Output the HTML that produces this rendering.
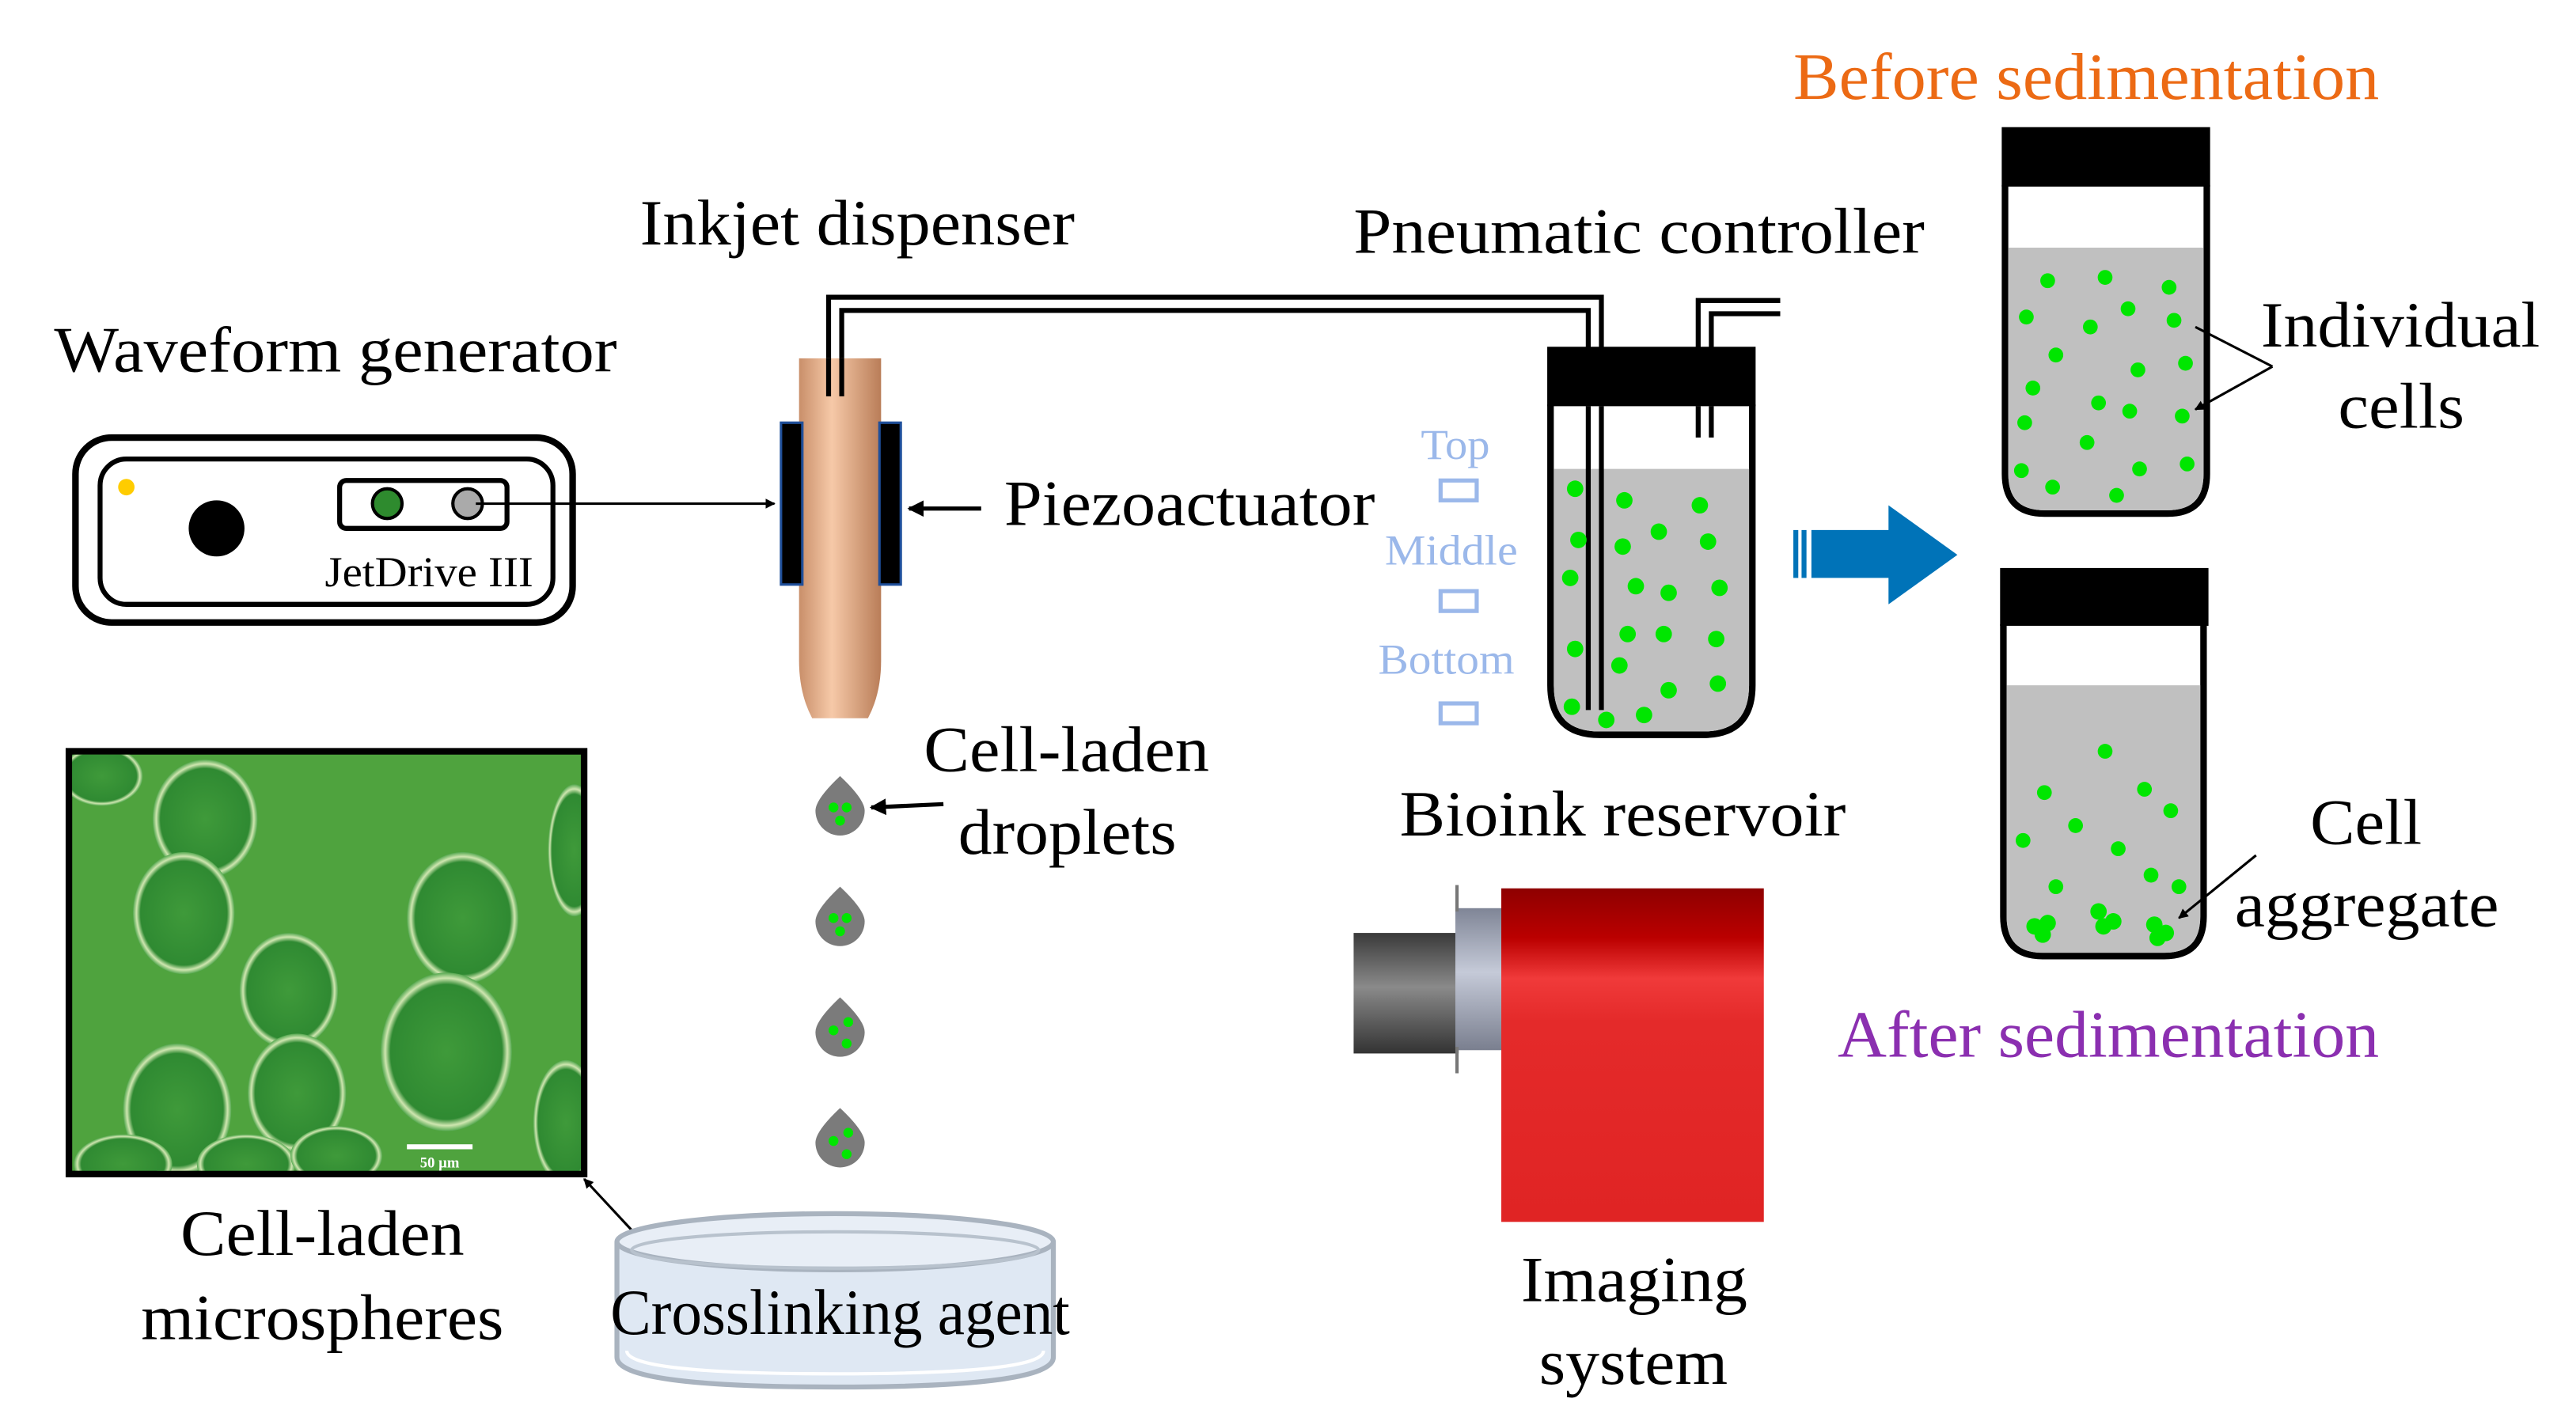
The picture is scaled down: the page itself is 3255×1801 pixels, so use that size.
<!DOCTYPE html>
<html><head><meta charset="utf-8"><style>html,body{margin:0;padding:0;background:#fff}svg{display:block}text{font-family:"Liberation Serif",serif}</style></head><body>
<svg width="3255" height="1801" viewBox="0 0 1570 863" preserveAspectRatio="none" xmlns="http://www.w3.org/2000/svg">
<defs>
<linearGradient id="tan" x1="0" x2="1"><stop offset="0" stop-color="#c98f6a"/><stop offset="0.4" stop-color="#f6c9a8"/><stop offset="1" stop-color="#b97d58"/></linearGradient>
<linearGradient id="red" x1="0" y1="0" x2="0" y2="1"><stop offset="0" stop-color="#8e0000"/><stop offset="0.15" stop-color="#b00"/><stop offset="0.27" stop-color="#f03a3a"/><stop offset="0.4" stop-color="#e42a2a"/><stop offset="1" stop-color="#e02424"/></linearGradient>
<linearGradient id="lens" x1="0" y1="0" x2="0" y2="1"><stop offset="0" stop-color="#3a3a3a"/><stop offset="0.45" stop-color="#8a8a8a"/><stop offset="1" stop-color="#333"/></linearGradient>
<linearGradient id="ring" x1="0" y1="0" x2="0" y2="1"><stop offset="0" stop-color="#7f8596"/><stop offset="0.45" stop-color="#c5cad8"/><stop offset="1" stop-color="#7a7f8f"/></linearGradient>
<radialGradient id="cell" cx="0.5" cy="0.5" r="0.5"><stop offset="0" stop-color="#3f9a3a"/><stop offset="0.85" stop-color="#2f8a32"/><stop offset="0.93" stop-color="#cfe6b0"/><stop offset="1" stop-color="#55a850"/></radialGradient>
<marker id="ah" viewBox="0 0 10 10" refX="9" refY="5" markerWidth="4" markerHeight="4" orient="auto"><path d="M0,0 L10,5 L0,10 z" fill="#000"/></marker>
<clipPath id="mc"><rect x="44" y="457" width="310" height="252"/></clipPath>
</defs>

<text x="1093" y="60" font-size="40" fill="#ec6a14" textLength="357" lengthAdjust="spacingAndGlyphs">Before sedimentation</text>
<text x="390" y="148" font-size="39" textLength="265" lengthAdjust="spacingAndGlyphs">Inkjet dispenser</text>
<text x="825" y="153" font-size="39" textLength="348" lengthAdjust="spacingAndGlyphs">Pneumatic controller</text>
<text x="33" y="225" font-size="39" textLength="343" lengthAdjust="spacingAndGlyphs">Waveform generator</text>

<rect x="46" y="265" width="303" height="112" rx="22" fill="#fff" stroke="#000" stroke-width="4"/>
<rect x="61" y="278" width="276" height="88" rx="16" fill="#fff" stroke="#000" stroke-width="3"/>
<circle cx="77" cy="295" r="5" fill="#fc0"/>
<circle cx="132" cy="320" r="17" fill="#000"/>
<rect x="207" y="291" width="102" height="29" rx="4" fill="#fff" stroke="#000" stroke-width="3"/>
<circle cx="236" cy="305" r="9" fill="#2e8b2e" stroke="#000" stroke-width="2"/>
<circle cx="285" cy="305" r="9" fill="#aaa" stroke="#000" stroke-width="2"/>
<text x="198" y="355" font-size="26" textLength="127" lengthAdjust="spacingAndGlyphs">JetDrive III</text>
<line x1="290" y1="305" x2="472" y2="305" stroke="#000" stroke-width="1.5" marker-end="url(#ah)"/>

<path d="M505,240 V180 H976 V430 M513,240 V188 H968 V430" fill="none" stroke="#000" stroke-width="3"/>
<path d="M1035,265 V182 H1085 M1043,265 V190 H1085" fill="none" stroke="#000" stroke-width="3"/>

<path d="M487,217 H537 V400 Q537,420 529,435 H495 Q487,420 487,400 Z" fill="url(#tan)"/>
<path d="M505,217 V240 M513,217 V240" stroke="#000" stroke-width="3"/>
<rect x="476" y="256" width="13" height="98" fill="#000" stroke="#1f4f9a" stroke-width="1.5"/>
<rect x="536" y="256" width="13" height="98" fill="#000" stroke="#1f4f9a" stroke-width="1.5"/>
<line x1="598" y1="308" x2="554" y2="308" stroke="#000" stroke-width="2.5" marker-end="url(#ah)"/>
<text x="612" y="318" font-size="39" textLength="226" lengthAdjust="spacingAndGlyphs">Piezoactuator</text>

<path d="M945,245 V415 Q945,445 975,445 H1038 Q1068,445 1068,415 V245" fill="#fff" stroke="#000" stroke-width="4"/>
<path d="M947,284 H1066 V415 Q1066,443 1038,443 H975 Q947,443 947,415 Z" fill="#c0c0c0"/>
<rect x="943" y="210" width="127" height="36" fill="#000"/>
<path d="M968,246 V430 M976,246 V430 M1035,246 V265 M1043,246 V265" stroke="#000" stroke-width="3"/>
<g fill="#00e600">
<circle cx="960" cy="296" r="5"/><circle cx="990" cy="303" r="5"/><circle cx="1036" cy="306" r="5"/>
<circle cx="962" cy="327" r="5"/><circle cx="989" cy="331" r="5"/><circle cx="1011" cy="322" r="5"/><circle cx="1041" cy="328" r="5"/>
<circle cx="957" cy="350" r="5"/><circle cx="997" cy="355" r="5"/><circle cx="1017" cy="359" r="5"/><circle cx="1048" cy="356" r="5"/>
<circle cx="992" cy="384" r="5"/><circle cx="1014" cy="384" r="5"/><circle cx="1046" cy="387" r="5"/>
<circle cx="960" cy="393" r="5"/><circle cx="987" cy="403" r="5"/><circle cx="1017" cy="418" r="5"/><circle cx="1047" cy="414" r="5"/>
<circle cx="958" cy="428" r="5"/><circle cx="979" cy="436" r="5"/><circle cx="1002" cy="433" r="5"/>
</g>
<g fill="#9bb8ea" font-size="26">
<text x="866" y="278" textLength="42" lengthAdjust="spacingAndGlyphs">Top</text>
<text x="844" y="342" textLength="81" lengthAdjust="spacingAndGlyphs">Middle</text>
<text x="840" y="408" textLength="83" lengthAdjust="spacingAndGlyphs">Bottom</text></g>
<g fill="none" stroke="#9bb8ea" stroke-width="2.5"><rect x="878" y="291" width="22" height="12"/><rect x="878" y="358" width="22" height="12"/><rect x="878" y="426" width="22" height="12"/></g>
<text x="853" y="506" font-size="39" textLength="272" lengthAdjust="spacingAndGlyphs">Bioink reservoir</text>

<path d="M1104,321 H1151 V306 L1193,336 L1151,366 V350 H1104 Z" fill="#0073b8"/>
<rect x="1093" y="321" width="3" height="29" fill="#0073b8"/><rect x="1098" y="321" width="3" height="29" fill="#0073b8"/>

<path d="M1222,112 V287 Q1222,311 1246,311 H1321 Q1345,311 1345,287 V112" fill="#fff" stroke="#000" stroke-width="4"/>
<path d="M1224,150 H1343 V287 Q1343,309 1321,309 H1246 Q1224,309 1224,287 Z" fill="#c0c0c0"/>
<rect x="1220" y="77" width="127" height="36" fill="#000"/>
<g fill="#00e600">
<circle cx="1248" cy="170" r="4.5"/><circle cx="1283" cy="168" r="4.5"/><circle cx="1322" cy="174" r="4.5"/>
<circle cx="1235" cy="192" r="4.5"/><circle cx="1274" cy="198" r="4.5"/><circle cx="1297" cy="187" r="4.5"/><circle cx="1325" cy="194" r="4.5"/>
<circle cx="1253" cy="215" r="4.5"/><circle cx="1303" cy="224" r="4.5"/><circle cx="1332" cy="220" r="4.5"/>
<circle cx="1239" cy="235" r="4.5"/><circle cx="1279" cy="244" r="4.5"/><circle cx="1298" cy="249" r="4.5"/><circle cx="1330" cy="252" r="4.5"/>
<circle cx="1234" cy="256" r="4.5"/><circle cx="1272" cy="268" r="4.5"/><circle cx="1304" cy="284" r="4.5"/><circle cx="1333" cy="281" r="4.5"/>
<circle cx="1232" cy="285" r="4.5"/><circle cx="1251" cy="295" r="4.5"/><circle cx="1290" cy="300" r="4.5"/>
</g>
<path d="M1385,222 L1338,198 M1385,222 L1338,248" stroke="#000" stroke-width="1.5" marker-end="url(#ah)"/>
<text x="1378" y="210" font-size="39" textLength="170" lengthAdjust="spacingAndGlyphs">Individual</text>
<text x="1425" y="259" font-size="39" textLength="77" lengthAdjust="spacingAndGlyphs">cells</text>

<path d="M1221,378 V555 Q1221,579 1245,579 H1319 Q1343,579 1343,555 V378" fill="#fff" stroke="#000" stroke-width="4"/>
<path d="M1223,415 H1341 V555 Q1341,577 1319,577 H1245 Q1223,577 1223,555 Z" fill="#c0c0c0"/>
<rect x="1219" y="344" width="127" height="35" fill="#000"/>
<g fill="#00e600">
<circle cx="1283" cy="455" r="4.5"/><circle cx="1246" cy="480" r="4.5"/><circle cx="1307" cy="478" r="4.5"/><circle cx="1323" cy="491" r="4.5"/>
<circle cx="1265" cy="500" r="4.5"/><circle cx="1233" cy="509" r="4.5"/><circle cx="1291" cy="514" r="4.5"/>
<circle cx="1253" cy="537" r="4.5"/><circle cx="1311" cy="530" r="4.5"/><circle cx="1328" cy="537" r="4.5"/>
<circle cx="1240" cy="561" r="5"/><circle cx="1248" cy="559" r="5"/><circle cx="1245" cy="566" r="5"/>
<circle cx="1279" cy="552" r="5"/><circle cx="1282" cy="561" r="5"/><circle cx="1288" cy="558" r="5"/>
<circle cx="1313" cy="560" r="5"/><circle cx="1320" cy="565" r="5"/><circle cx="1315" cy="568" r="5"/>
</g>
<line x1="1375" y1="518" x2="1328" y2="556" stroke="#000" stroke-width="1.5" marker-end="url(#ah)"/>
<text x="1408" y="511" font-size="39" textLength="68" lengthAdjust="spacingAndGlyphs">Cell</text>
<text x="1362" y="561" font-size="39" textLength="161" lengthAdjust="spacingAndGlyphs">aggregate</text>
<text x="1120" y="640" font-size="40" fill="#8b2fb0" textLength="330" lengthAdjust="spacingAndGlyphs">After sedimentation</text>

<rect x="825" y="565" width="64" height="73" fill="url(#lens)"/>
<rect x="887" y="550" width="30" height="86" fill="url(#ring)"/>
<rect x="887" y="536" width="2" height="16" fill="#777"/><rect x="887" y="634" width="2" height="16" fill="#777"/>
<rect x="915" y="538" width="160" height="202" fill="url(#red)"/>
<text x="927" y="788" font-size="39" textLength="138" lengthAdjust="spacingAndGlyphs">Imaging</text>
<text x="938" y="838" font-size="39" textLength="115" lengthAdjust="spacingAndGlyphs">system</text>

<rect x="42" y="455" width="314" height="256" fill="#4fa33e" stroke="#000" stroke-width="4"/>
<g clip-path="url(#mc)">
<ellipse cx="125" cy="496" rx="32" ry="36" fill="url(#cell)"/>
<ellipse cx="62" cy="470" rx="25" ry="18" fill="url(#cell)"/>
<ellipse cx="112" cy="553" rx="31" ry="37" fill="url(#cell)"/>
<ellipse cx="282" cy="556" rx="34" ry="40" fill="url(#cell)"/>
<ellipse cx="176" cy="600" rx="30" ry="35" fill="url(#cell)"/>
<ellipse cx="272" cy="637" rx="40" ry="48" fill="url(#cell)"/>
<ellipse cx="181" cy="662" rx="30" ry="36" fill="url(#cell)"/>
<ellipse cx="108" cy="672" rx="33" ry="40" fill="url(#cell)"/>
<ellipse cx="350" cy="515" rx="16" ry="40" fill="url(#cell)"/>
<ellipse cx="345" cy="680" rx="20" ry="38" fill="url(#cell)"/>
<ellipse cx="75" cy="705" rx="30" ry="18" fill="url(#cell)"/>
<ellipse cx="150" cy="705" rx="30" ry="18" fill="url(#cell)"/>
<ellipse cx="205" cy="700" rx="28" ry="18" fill="url(#cell)"/>
</g>
<rect x="248" y="693" width="40" height="3" fill="#fff"/>
<text x="268" y="707" font-size="9" fill="#fff" font-family="Liberation Sans,sans-serif" text-anchor="middle" font-weight="bold">50 µm</text>
<line x1="385" y1="745" x2="356" y2="714" stroke="#000" stroke-width="1.5" marker-end="url(#ah)"/>
<text x="110" y="760" font-size="39" textLength="173" lengthAdjust="spacingAndGlyphs">Cell-laden</text>
<text x="86" y="811" font-size="39" textLength="221" lengthAdjust="spacingAndGlyphs">microspheres</text>

<g fill="#7b7b7b">
<path d="M512,470 Q527,484 527,491 A15,15 0 0 1 497,491 Q497,484 512,470 Z"/>
<path d="M512,537 Q527,551 527,558 A15,15 0 0 1 497,558 Q497,551 512,537 Z"/>
<path d="M512,604 Q527,618 527,625 A15,15 0 0 1 497,625 Q497,618 512,604 Z"/>
<path d="M512,671 Q527,685 527,692 A15,15 0 0 1 497,692 Q497,685 512,671 Z"/>
</g>
<g fill="#00e600">
<circle cx="508" cy="489" r="3"/><circle cx="516" cy="489" r="3"/><circle cx="512" cy="497" r="3"/>
<circle cx="508" cy="556" r="3"/><circle cx="516" cy="556" r="3"/><circle cx="512" cy="564" r="3"/>
<circle cx="508" cy="624" r="3"/><circle cx="517" cy="619" r="3"/><circle cx="516" cy="632" r="3"/>
<circle cx="508" cy="691" r="3"/><circle cx="517" cy="686" r="3"/><circle cx="516" cy="699" r="3"/>
</g>
<line x1="575" y1="487" x2="531" y2="489" stroke="#000" stroke-width="2.5" marker-end="url(#ah)"/>
<text x="563" y="467" font-size="39" textLength="174" lengthAdjust="spacingAndGlyphs">Cell-laden</text>
<text x="584" y="517" font-size="39" textLength="133" lengthAdjust="spacingAndGlyphs">droplets</text>

<path d="M376,752 V822 Q376,840 509,840 Q642,840 642,822 V752" fill="#dfe8f3" stroke="#a9b3bf" stroke-width="3"/>
<ellipse cx="509" cy="752" rx="133" ry="17" fill="#e8eef6" stroke="#a9b3bf" stroke-width="3"/>
<ellipse cx="509" cy="757" rx="124" ry="11" fill="none" stroke="#b8c2cd" stroke-width="2"/>
<path d="M382,818 Q382,832 509,832 Q636,832 636,818" fill="none" stroke="#fff" stroke-width="2"/>
<text x="372" y="808" font-size="39" textLength="280" lengthAdjust="spacingAndGlyphs">Crosslinking agent</text>
</svg>
</body></html>
